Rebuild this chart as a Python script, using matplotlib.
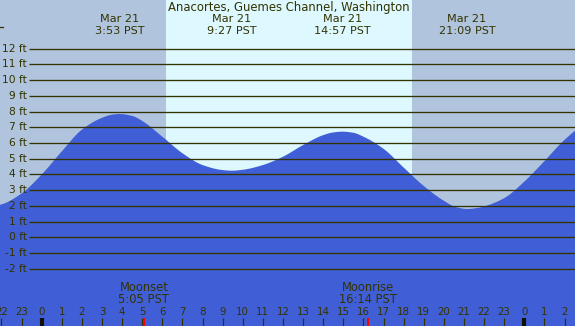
import matplotlib
matplotlib.use("Agg")
import matplotlib.pyplot as plt
import numpy as np

# ---- data ----
title = "Anacortes, Guemes Channel, Washington"
hours = [-3, -2, -1, 0, 1, 2, 3, 3.5, 3.88, 4.5, 5, 6, 7, 8, 9, 9.45, 10, 11, 12, 13,
         14, 14.5, 14.95, 15.5, 16, 17, 18, 19, 20, 20.6, 21.15, 21.7, 22, 23, 24, 25,
         26, 27, 28]
heights = [1.85, 2.1, 2.8, 4.0, 5.47, 6.85, 7.6, 7.8, 7.84, 7.72, 7.4, 6.4, 5.35, 4.6,
           4.28, 4.24, 4.3, 4.6, 5.13, 5.87, 6.5, 6.67, 6.72, 6.65, 6.4, 5.63, 4.44,
           3.27, 2.33, 1.93, 1.81, 1.88, 1.97, 2.5, 3.55, 4.85, 6.2, 7.2, 7.7]
extreme_hours = [3.883, 9.45, 14.95, 21.15]
extreme_labels = ["3:53 PST", "9:27 PST", "14:57 PST", "21:09 PST"]
extreme_date = "Mar 21"
sunrise, sunset = 6.18, 18.41
moon_hours = [5.083, 16.233]
moon_names = ["Moonset", "Moonrise"]
moon_labels = ["5:05 PST", "16:14 PST"]
ft_levels = list(range(12, -3, -1))
hour_ticks = list(range(-2, 27))
hour_labels = [str(h % 24) for h in hour_ticks]

# ---- styling ----
night = "#b0c4de"
day = "#ddf8ff"
water = "#405fd6"
ink = "#333300"

x0, x1 = -2.074, 26.52
y0, y1 = -5.62, 15.08


def smooth_path(x, y, n=12):
    """Monotone cubic (Fritsch-Carlson) rendering of the read points."""
    x = np.asarray(x, float)
    y = np.asarray(y, float)
    h = np.diff(x)
    d = np.diff(y) / h
    m = np.zeros_like(y)
    m[0], m[-1] = d[0], d[-1]
    for i in range(1, len(y) - 1):
        if d[i - 1] * d[i] > 0:
            w1 = 2 * h[i] + h[i - 1]
            w2 = h[i] + 2 * h[i - 1]
            m[i] = (w1 + w2) / (w1 / d[i - 1] + w2 / d[i])
    xs, ys = [], []
    for i in range(len(h)):
        t = np.linspace(0, 1, n, endpoint=False)
        h00 = 2 * t**3 - 3 * t**2 + 1
        h10 = t**3 - 2 * t**2 + t
        h01 = -2 * t**3 + 3 * t**2
        h11 = t**3 - t**2
        xs.append(x[i] + t * h[i])
        ys.append(h00 * y[i] + h10 * h[i] * m[i] + h01 * y[i + 1] + h11 * h[i] * m[i + 1])
    xs.append([x[-1]])
    ys.append([y[-1]])
    return np.concatenate(xs), np.concatenate(ys)


fig = plt.figure(figsize=(5.75, 3.26), dpi=100)
ax = fig.add_axes([0, 0, 1, 1])
ax.set_xlim(x0, x1)
ax.set_ylim(y0, y1)
ax.axis("off")

ax.axvspan(x0, sunrise, color=night, lw=0, zorder=0)
ax.axvspan(sunrise, sunset, color=day, lw=0, zorder=0)
ax.axvspan(sunset, x1, color=night, lw=0, zorder=0)

sx, sy = smooth_path(hours, heights)
ax.fill_between(sx, sy, y0, color=water, lw=0, zorder=1)

for lv in ft_levels:
    ax.plot([-0.616, x1], [lv, lv], color=ink, lw=0.95, zorder=2, solid_capstyle="butt")
    ax.text(-0.72, lv, f"{lv} ft", ha="right", va="center", fontsize=7.7,
            color=ink, zorder=3)
ax.plot([x0, x0 + 0.15], [13.38, 13.38], color=ink, lw=0.9, zorder=2)

ax.text(12.3, 14.6, title, ha="center", va="center", fontsize=8.4, color=ink, zorder=3)
for h, lab in zip(extreme_hours, extreme_labels):
    ax.text(h, 13.87, extreme_date, ha="center", va="center", fontsize=8.1, color=ink, zorder=3)
    ax.text(h, 13.12, lab, ha="center", va="center", fontsize=8.1, color=ink, zorder=3)

for h, name, lab in zip(moon_hours, moon_names, moon_labels):
    ax.text(h, -3.16, name, ha="center", va="center", fontsize=8.3, color=ink, zorder=3)
    ax.text(h, -3.92, lab, ha="center", va="center", fontsize=8.3, color=ink, zorder=3)

for h, lab in zip(hour_ticks, hour_labels):
    ax.text(h, -4.72, lab, ha="center", va="center", fontsize=7.4, color=ink, zorder=3)
    lw = 3.0 if h % 24 == 0 else 0.9
    ax.plot([h, h], [-5.11, y0], color=ink if h % 24 else "#111100", lw=lw, zorder=3,
            solid_capstyle="butt")
for h in moon_hours:
    ax.plot([h, h], [-5.11, y0], color="red", lw=1.5, zorder=4, solid_capstyle="butt")

fig.savefig("out.png", dpi=100)
